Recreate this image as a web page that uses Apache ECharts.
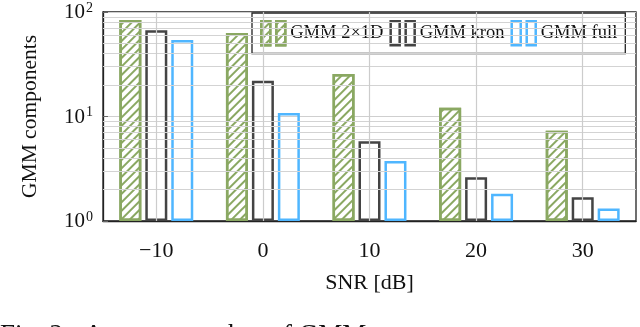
<!DOCTYPE html>
<html><head><meta charset="utf-8">
<script src="https://cdn.jsdelivr.net/npm/echarts@6/dist/echarts.min.js"></script>
<style>html,body{margin:0;padding:0;background:#fff}#c{width:640px;height:327px}</style>
</head><body><div id="c"></div>
<script>
const categories = ['\u221210', '0', '10', '20', '30'];
const gmm2x1d = [84, 63, 25.5, 12.1, 7.3];
const gmmKron = [67, 22, 5.8, 2.62, 1.69];
const gmmFull = [54, 10.8, 3.75, 1.82, 1.32];
const minorGrid = [2,3,4,5,6,7,8,9,20,30,40,50,60,70,80,90];
const yRange = [1, 100];

const FONT = 'Liberation Serif';
const GREEN = '#8aa862', DARK = '#444444', BLUE = '#4fb6ff';
const chart = echarts.init(document.getElementById('c'));
const twoBars = 'path://M0,0h9v24h-9z M15,0h9v24h-9z';
const yFmt = v => { const e = Math.round(Math.log10(v)); return '{b|10}{s|' + e + '}'; };

const verticalGrid = categories.map((c, i) => [{coord: [i, 1.001]}, {coord: [i, 99.9]}]);

chart.setOption({
  animation: false,
  grid: {left: 103, right: 4, top: 12, bottom: 106, show: true, borderColor: '#222', borderWidth: 1.3, backgroundColor: 'rgba(0,0,0,0)'},
  legend: {
    left: 252, top: 13, right: 4,
    padding: [7, 8, 7, 8],
    backgroundColor: '#fff', borderColor: '#222', borderWidth: 1.3,
    itemWidth: 24, itemHeight: 24, itemGap: 6,
    itemStyle: {borderWidth: 2.5},
    textStyle: {fontFamily: FONT, fontSize: 18.5, color: '#111'},
    data: [
      {name: 'GMM 2\u00d71D', icon: twoBars},
      {name: 'GMM kron', icon: twoBars},
      {name: 'GMM full', icon: twoBars}
    ]
  },
  xAxis: [{
    type: 'category', data: categories, position: 'bottom',
    axisLine: {lineStyle: {color: '#222', width: 1.3}},
    axisTick: {alignWithLabel: true, length: 10, lineStyle: {color: '#bbb'}},
    axisLabel: {fontFamily: FONT, fontSize: 22, color: '#111', margin: 19},
    name: 'SNR [dB]', nameLocation: 'middle', nameGap: 51,
    nameTextStyle: {fontFamily: FONT, fontSize: 22, color: '#111'},
    splitLine: {show: false}
  }],
  yAxis: [{
    type: 'log', logBase: 10, min: yRange[0], max: yRange[1],
    axisLine: {show: true, lineStyle: {color: '#222', width: 1.3}},
    axisTick: {show: true, inside: true, length: 5, lineStyle: {color: '#666'}},
    axisLabel: {
      formatter: yFmt, margin: 10,
      rich: {
        b: {fontFamily: FONT, fontSize: 21, color: '#111', verticalAlign: 'bottom', lineHeight: 22},
        s: {fontFamily: FONT, fontSize: 14, color: '#111', verticalAlign: 'top', lineHeight: 22, padding: [0, 0, 10, 1]}
      }
    },
    splitLine: {show: true, lineStyle: {color: '#cfcfcf', width: 1}},
    name: 'GMM components', nameLocation: 'middle', nameGap: 62,
    nameTextStyle: {fontFamily: FONT, fontSize: 21.5, color: '#111'}
  }],
  series: [{
    name: 'GMM 2\u00d71D', type: 'bar', data: gmm2x1d,
    barWidth: 22, barGap: '18%',
    itemStyle: {
      color: '#ffffff', borderColor: GREEN, borderWidth: 2.5,
      decal: {symbol: 'rect', color: GREEN, dashArrayX: [1, 0], dashArrayY: [1.6, 3.2], rotation: -Math.PI / 4, symbolSize: 1}
    },
    markLine: {
      silent: true, symbol: 'none', label: {show: false},
      lineStyle: {color: '#d3d3d3', width: 1, type: 'solid'},
      data: minorGrid.map(v => ({yAxis: v}))
    }
  }, {
    name: 'GMM kron', type: 'bar', data: gmmKron,
    barWidth: 22, barGap: '18%',
    itemStyle: {color: 'rgba(255,255,255,0)', borderColor: DARK, borderWidth: 2.5},
    markLine: {
      silent: true, symbol: 'none', label: {show: false},
      lineStyle: {color: '#cccccc', width: 1.2, type: 'solid'},
      data: verticalGrid
    }
  }, {
    name: 'GMM full', type: 'bar', data: gmmFull,
    barWidth: 22, barGap: '18%',
    itemStyle: {color: 'rgba(255,255,255,0)', borderColor: BLUE, borderWidth: 2.5}
  }],
  graphic: [{
    type: 'text', left: 0, top: 322,
    style: {text: 'Fig. 2:  Average number of GMM', fontFamily: FONT, fontSize: 27, fill: '#111'}
  }]
});
</script></body></html>
